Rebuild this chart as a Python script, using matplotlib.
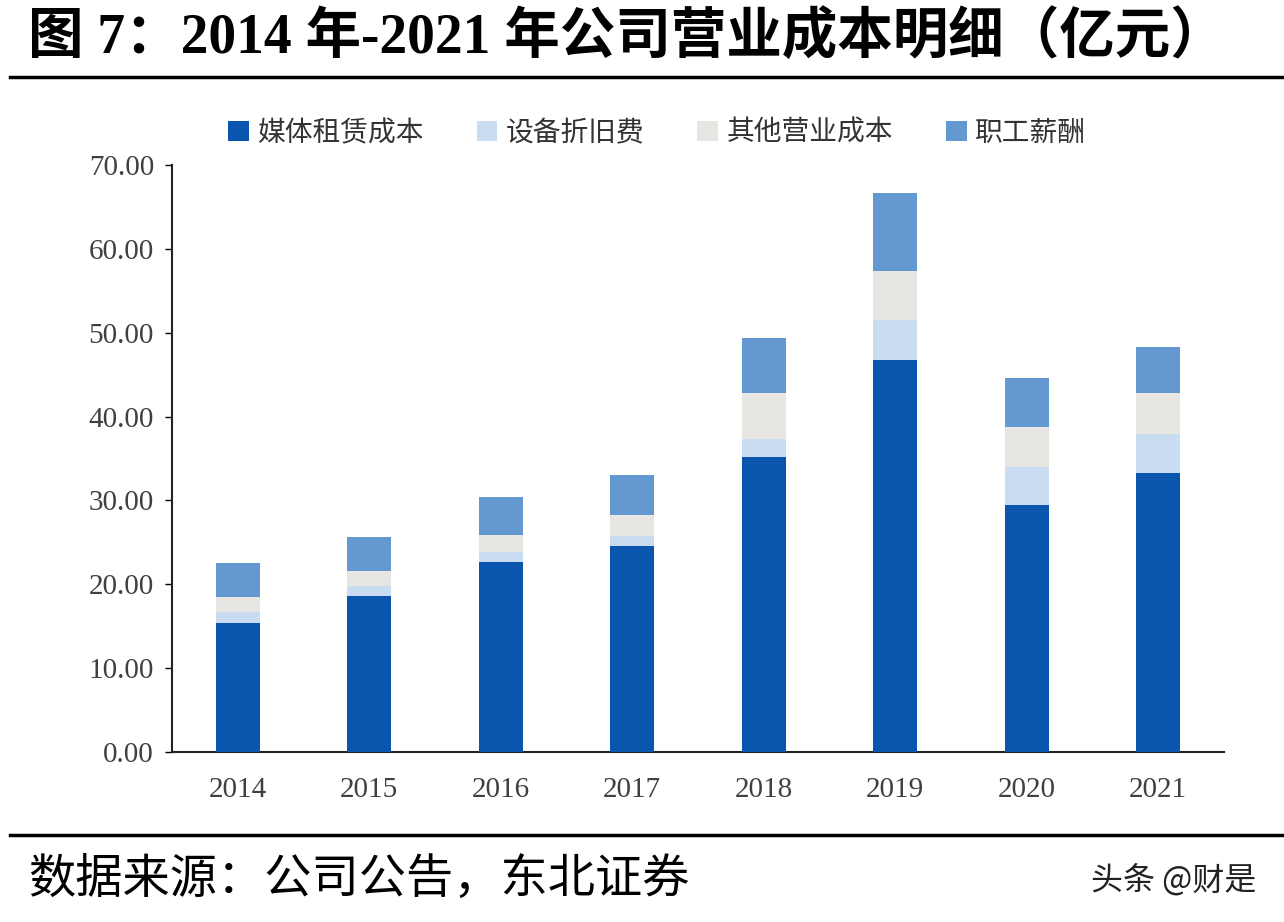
import matplotlib
matplotlib.use('Agg')
import matplotlib.pyplot as plt
import numpy as np

plt.rcParams['font.family'] = ['Liberation Serif', 'Noto Sans CJK SC', 'DejaVu Sans']

# 数据（亿元）
years = ['2014', '2015', '2016', '2017', '2018', '2019', '2020', '2021']
media_rent = [15.35, 18.64, 22.70, 24.60, 35.20, 46.70, 29.45, 33.30]
depreciation = [1.35, 1.20, 1.20, 1.15, 2.10, 4.80, 4.55, 4.60]
other_cost = [1.80, 1.80, 2.00, 2.50, 5.50, 5.90, 4.80, 4.90]
salary = [4.05, 4.00, 4.50, 4.80, 6.55, 9.30, 5.85, 5.55]

series_names = ['媒体租赁成本', '设备折旧费', '其他营业成本', '职工薪酬']
colors = ['#0A56AE', '#C9DCF2', '#E8E6E3', '#6399D0']

fig = plt.figure(figsize=(12.84, 9.22), dpi=100)
ax = fig.add_axes([172 / 1284, 1 - 752 / 922, (1224 - 172) / 1284, (752 - 165) / 922])

x = np.arange(len(years))
bottom = np.zeros(len(years))
for name, vals, c in zip(series_names, [media_rent, depreciation, other_cost, salary], colors):
    ax.bar(x, vals, width=0.335, bottom=bottom, color=c, label=name, zorder=3)
    bottom = bottom + np.array(vals)

ax.set_xlim(-0.5, len(years) - 0.5)
ax.set_ylim(0, 70)
ax.set_yticks(np.arange(0, 71, 10))
ax.set_yticklabels(['%.2f' % v for v in np.arange(0, 71, 10)])
ax.set_xticks(x)
ax.set_xticklabels(years)
ax.tick_params(axis='y', labelsize=21, labelcolor='#404040', length=5, width=1, pad=8)
ax.tick_params(axis='x', labelsize=21, labelcolor='#404040', length=0, pad=18)
for s in ['top', 'right']:
    ax.spines[s].set_visible(False)
for s in ['left', 'bottom']:
    ax.spines[s].set_color('#222222')
    ax.spines[s].set_linewidth(1.5)

leg = fig.legend(loc='center', bbox_to_anchor=(657 / 1284, 1 - 133 / 922), ncol=4,
                 frameon=False, handlelength=0.75, handleheight=0.75,
                 handletextpad=0.3, columnspacing=1.9,
                 prop={'family': ['Noto Sans CJK SC'], 'size': 20})
for t in leg.get_texts():
    t.set_color('#333333')

# 标题
fig.text(28 / 1284, 1 - 38 / 922, '图 7：2014 年-2021 年公司营业成本明细（亿元）',
         fontsize=40, fontweight='bold', va='center', ha='left',
         family=['Liberation Serif', 'Noto Sans CJK SC'])
fig.add_artist(plt.Line2D([10 / 1284, 1], [1 - 77 / 922] * 2, color='black', lw=2.5))
fig.add_artist(plt.Line2D([10 / 1284, 1], [1 - 835 / 922] * 2, color='black', lw=2.5))

# 来源
fig.text(28 / 1284, 1 - 880 / 922, '数据来源：公司公告，东北证券', fontsize=34,
         va='center', ha='left', family=['Noto Sans CJK SC'])
fig.text(1256 / 1284, 1 - 880 / 922, '头条 @财是', fontsize=23, va='center', ha='right',
         family=['Noto Sans CJK SC', 'DejaVu Sans'], color='#222222')

fig.savefig('out.png', dpi=100)
